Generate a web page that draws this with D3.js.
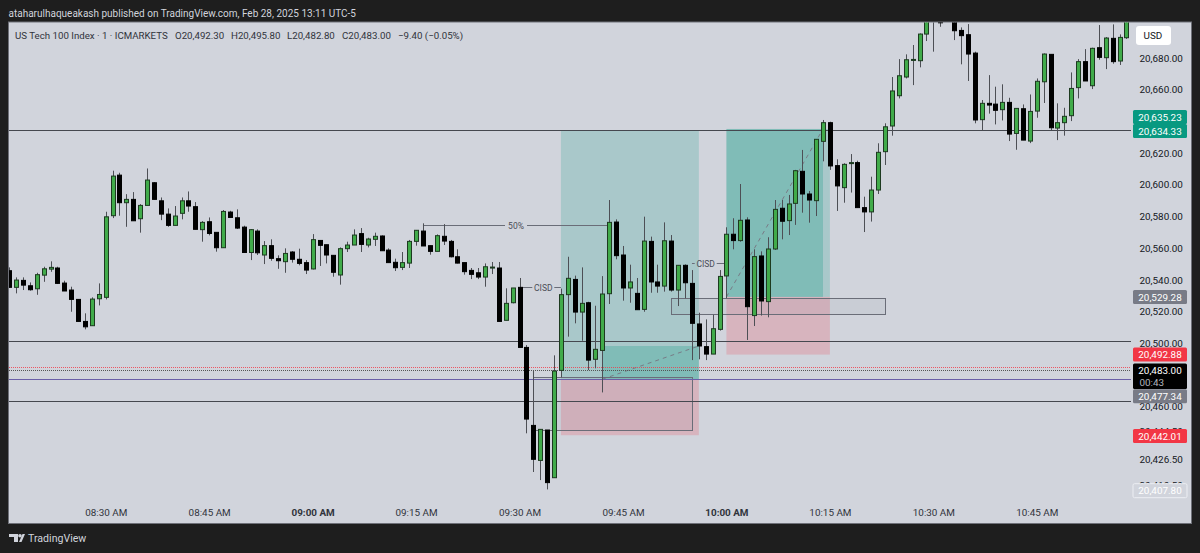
<!DOCTYPE html>
<html>
<head>
<meta charset="utf-8">
<style>
  html, body { margin: 0; padding: 0; background: #1e1e1e; }
  svg { display: block; font-family: Roboto, "Liberation Sans", sans-serif; }
</style>
<script src="https://cdn.jsdelivr.net/npm/d3@7"></script>
</head>
<body>
<div id="mycanvas"></div>
<script>
// one bar per minute, first bar on screen is 08:16
const firstBar = "08:16";

const opens = [
  20545.8,20535.3,20539.7,20536.3,20534.4,20543.0,20546.8,20547.5,20538.0,20533.6,20527.7,20513.8,20511.1,20528.1,
  20529.0,20580.5,20606.1,20588.7,20590.8,20578.6,20587.0,20601.3,20589.9,20581.5,
  20574.4,20582.0,20589.9,20586.2,20571.7,20576.7,20570.0,20560.3,20582.8,20579.2,
  20573.3,20557.3,20570.8,20555.7,20561.6,20553.4,20551.5,20557.6,20553.0,20550.9,
  20546.9,20564.9,20562.2,20555.5,20543.1,20559.7,20562.0,20569.2,20562.0,20565.6,
  20567.7,20558.8,20551.1,20547.9,20550.6,20564.3,20570.8,20561.6,20558.0,20567.5,
  20564.3,20554.6,20550.9,20546.0,20544.5,20541.8,20547.9,20547.5,20514.5,20525.6,
  20535.3,20497.4,20448.2,20426.1,20445.3,20415.2,20482.9,20530.7,20540.3,20519.7,
  20525.6,20489.9,20495.5,20531.3,20576.5,20555.7,20534.9,20531.5,20521.4,20564.3,
  20538.7,20536.1,20564.5,20533.6,20549.2,20537.8,20512.2,20497.9,20493.2,20508.8,
  20542.5,20568.8,20564.8,20577.8,20517.5,20555.1,20526.3,20559.5,20585.2,20577.4,
  20588.3,20608.5,20594.2,20590.0,20627.4,20639.2,20612.1,20598.2,20613.6,20614.0,
  20585.6,20582.9,20596.7,20620.9,20637.1,20656.2,20668.0,20678.7,20678.3,20695.1,
  20712,20706,20712,20708,20697.4,20694.7,20683.1,20641.1,20651.4,20650.9,
  20647.4,20652.0,20632.4,20648.0,20627.6,20646.5,20665.0,20682.3,20635.8,20639.2,
  20643.6,20661.3,20677.7,20662.5,20686.5,20680.2,20692.4,20678.1,20692.8
];
const highs = [
  20547.9,20541.6,20541.6,20538.4,20544.5,20548.3,20551.7,20548.3,20539.5,20535.7,20527.7,20518.9,20529.0,20537.8,
  20583.0,20608.9,20607.6,20594.1,20595.4,20587.8,20610.3,20601.7,20592.0,20585.1,
  20586.6,20592.0,20595.8,20589.1,20577.1,20579.4,20570.0,20584.1,20583.6,20584.5,
  20574.2,20572.1,20571.9,20564.5,20565.6,20555.5,20559.9,20558.2,20559.7,20552.5,
  20568.9,20564.9,20562.2,20555.5,20560.5,20564.1,20571.9,20572.7,20566.6,20569.8,
  20568.1,20559.9,20553.4,20557.6,20565.2,20571.3,20575.7,20561.6,20568.7,20575.2,
  20565.2,20559.3,20550.9,20547.5,20547.5,20550.4,20551.3,20551.3,20534.7,20534.9,
  20541.2,20498.9,20482.5,20445.7,20445.3,20492.4,20534.5,20554.6,20542.7,20547.9,
  20526.2,20523.7,20542.4,20590.4,20578.2,20561.4,20549.6,20541.2,20579.9,20567.3,
  20549.6,20576.3,20568.3,20549.2,20549.8,20546.2,20519.3,20515.1,20518.0,20546.2,
  20573.2,20578.9,20600.5,20579.5,20559.3,20558.0,20566.9,20590.4,20590.4,20593.6,
  20609.4,20622.0,20596.1,20628.7,20640.9,20639.8,20616.1,20613.6,20619.4,20615.2,
  20592.5,20605.1,20626.2,20638.8,20668.0,20679.3,20682.3,20688.2,20695.5,20712,
  20716,20710,20715,20712,20699.3,20701.4,20684.0,20653.5,20669.2,20661.9,
  20663.4,20654.9,20648.2,20650.7,20657.0,20667.1,20682.9,20682.3,20651.4,20648.6,
  20670.9,20679.3,20685.6,20686.5,20700.8,20693.2,20701.2,20694.9,20708
];
const lows = [
  20535.0,20531.5,20533.6,20533.2,20530.6,20538.8,20545.1,20537.4,20533.0,20519.9,20513.8,20508.8,20511.1,20523.9,
  20527.7,20579.0,20580.5,20573.5,20577.3,20569.8,20587.0,20590.8,20577.7,20573.5,
  20574.4,20578.2,20583.0,20571.9,20564.1,20568.1,20557.8,20560.3,20579.4,20572.1,
  20557.3,20552.5,20555.7,20550.0,20552.1,20547.0,20544.5,20550.9,20549.2,20543.7,
  20546.6,20548.8,20550.4,20542.0,20537.0,20557.6,20562.0,20557.6,20560.5,20561.4,
  20558.4,20550.9,20545.6,20546.2,20547.5,20561.6,20561.4,20555.9,20558.0,20562.0,
  20554.2,20550.4,20543.3,20540.5,20540.5,20535.7,20543.7,20513.8,20514.5,20525.2,
  20497.4,20443.2,20418.8,20413.7,20407.8,20415.2,20478.5,20504.2,20512.6,20501.6,
  20483.1,20484.2,20469.0,20524.8,20553.0,20526.9,20525.6,20521.2,20519.9,20531.9,
  20531.9,20532.6,20532.6,20523.5,20528.4,20489.4,20489.9,20489.4,20493.2,20508.0,
  20528.4,20559.3,20564.1,20502.1,20510.9,20517.5,20516.4,20558.9,20565.6,20568.3,
  20574.7,20582.4,20576.1,20580.3,20614.8,20609.4,20583.5,20588.7,20595.1,20585.6,
  20570.2,20576.8,20594.2,20612.5,20631.0,20654.5,20667.1,20662.9,20674.1,20690.7,
  20684.0,20699.7,20704,20691.3,20676.0,20665.5,20638.8,20634.3,20644.9,20638.1,
  20640.6,20627.6,20622.1,20628.2,20626.3,20642.3,20651.6,20634.5,20628.2,20631.0,
  20640.2,20654.5,20665.5,20660.4,20678.9,20673.0,20676.4,20675.6,20692.0
];
const closes = [
  20535.3,20539.9,20536.7,20533.8,20543.3,20547.0,20547.9,20537.8,20533.0,20527.7,20513.8,20510.4,20527.9,20530.8,
  20579.8,20605.5,20588.7,20590.8,20577.3,20587.0,20603.0,20590.8,20581.5,20574.4,
  20580.3,20589.9,20586.6,20571.9,20576.3,20569.3,20560.3,20583.2,20579.4,20572.7,
  20557.3,20571.7,20557.1,20561.6,20553.6,20552.1,20556.7,20553.0,20550.4,20546.2,
  20565.4,20561.8,20555.7,20544.8,20559.7,20562.0,20568.3,20562.4,20565.8,20567.5,
  20558.4,20550.9,20547.7,20550.9,20564.3,20571.3,20561.4,20558.0,20567.9,20564.5,
  20554.6,20550.6,20545.2,20543.5,20541.8,20548.3,20548.1,20513.8,20525.2,20534.9,
  20497.4,20452.2,20426.8,20445.7,20412.1,20482.5,20530.7,20541.0,20519.7,20525.2,
  20489.4,20496.2,20531.1,20576.3,20555.3,20534.9,20538.7,20521.2,20564.5,20538.7,
  20536.1,20564.7,20533.6,20549.2,20538.2,20512.6,20498.3,20493.2,20509.2,20542.2,
  20568.8,20564.8,20577.6,20523.1,20554.7,20526.7,20559.5,20584.5,20577.0,20587.9,
  20608.9,20594.2,20590.4,20628.7,20639.2,20611.9,20599.3,20612.9,20614.0,20585.6,
  20582.9,20596.7,20620.5,20636.6,20659.2,20668.8,20678.9,20679.1,20695.1,20708,
  20704,20702.2,20708,20697.2,20694.1,20682.5,20640.9,20651.4,20650.3,20647.0,
  20652.0,20632.0,20648.2,20628.2,20646.3,20665.3,20682.5,20636.0,20639.2,20643.2,
  20660.8,20677.7,20665.5,20686.1,20680.4,20692.6,20677.7,20693.0,20706
];

const priceTicks = [20680, 20660, 20620, 20600, 20580, 20560, 20540, 20520, 20500, 20460, 20444.5, 20426.5, 20410.5];
const timeTicks = ["08:30", "08:45", "09:00", "09:15", "09:30", "09:45", "10:00", "10:15", "10:30", "10:45"];
const boldTimes = ["09:00", "10:00"];

const titleText = "ataharulhaqueakash published on TradingView.com, Feb 28, 2025 13:11 UTC-5";
const legendText = "US Tech 100 Index · 1 · ICMARKETS";
const legendOhlc = ["O20,492.30", "H20,495.80", "L20,482.80", "C20,483.00", "−9.40 (−0.05%)"];

// horizontal levels
const darkLevels = [20634.33, 20501.3, 20463.6];
const pinkLevel = 20485.3;
const closeLevel = 20483.0;
const entryLevel = 20477.34;

// long positions: start, fill start, fill end, end, target, entry, stop
const positionStart = ["09:36", "10:00"];
const positionFillStart = ["09:42", "10:00"];
const positionFillEnd = ["09:56", "10:14"];
const positionEnd = ["09:56", "10:15"];
const positionTarget = [20634.33, 20635.23];
const positionEntry = [20477.34, 20529.28];
const positionStop = [20442.01, 20492.88];
const positionFillTop = [20498.3, 20635.23];

const width = 1200;
const height = 553;
const plotLeft = 9;
const plotTop = 22.5;
const plotRight = 1131;
const plotBottom = 523.5;
const axisRight = 1191.5;
const fontSize = 9.9;

const parseTime = d3.timeParse("%H:%M");
const addMinutes = (t, n) => new Date(t.getTime() + n * 60000);

const x = d3
  .scaleTime()
  .domain([parseTime("08:30"), parseTime("10:45")])
  .range([105.7, 1036.8]);

const y = d3.scaleLinear().domain([20680, 20500]).range([58, 343.3]);

const bars = opens.map((o, i) => ({
  t: addMinutes(parseTime(firstBar), i),
  o: o,
  h: highs[i],
  l: lows[i],
  c: closes[i],
}));

const svg = d3
  .select("#mycanvas")
  .append("svg")
  .attr("width", width)
  .attr("height", height);

svg.append("rect").attr("width", width).attr("height", height).attr("fill", "#1e1e1e");

svg
  .append("rect")
  .attr("x", plotLeft - 0.5)
  .attr("y", plotTop - 0.5)
  .attr("width", axisRight - plotLeft + 0.5)
  .attr("height", plotBottom - plotTop + 0.5)
  .attr("fill", "#d1d4dc")
  .attr("stroke", "#6e7078");

svg
  .append("clipPath")
  .attr("id", "plotclip")
  .append("rect")
  .attr("x", plotLeft)
  .attr("y", plotTop)
  .attr("width", plotRight - plotLeft)
  .attr("height", plotBottom - plotTop);

const plot = svg.append("g").attr("clip-path", "url(#plotclip)");
const px = (t) => x(parseTime(t));

// long position tools
positionStart.forEach((start, i) => {
  const g = plot.append("g");
  const x0 = px(start);
  const x1 = px(positionEnd[i]);
  g.append("rect")
    .attr("x", x0)
    .attr("y", y(positionTarget[i]))
    .attr("width", x1 - x0)
    .attr("height", y(positionEntry[i]) - y(positionTarget[i]))
    .attr("fill", "#089981")
    .attr("fill-opacity", 0.2);
  g.append("rect")
    .attr("x", x0)
    .attr("y", y(positionEntry[i]))
    .attr("width", x1 - x0)
    .attr("height", y(positionStop[i]) - y(positionEntry[i]))
    .attr("fill", "#f23645")
    .attr("fill-opacity", 0.2);
  g.append("rect")
    .attr("x", px(positionFillStart[i]))
    .attr("y", y(positionFillTop[i]))
    .attr("width", px(positionFillEnd[i]) - px(positionFillStart[i]))
    .attr("height", y(positionEntry[i]) - y(positionFillTop[i]))
    .attr("fill", "#089981")
    .attr("fill-opacity", 0.25);
  g.append("line")
    .attr("x1", px(positionFillStart[i]))
    .attr("y1", y(positionEntry[i]))
    .attr("x2", px(positionFillEnd[i]))
    .attr("y2", y(positionFillTop[i]))
    .attr("stroke", "#787b86")
    .attr("stroke-width", 1)
    .attr("stroke-dasharray", "4 4");
});

// rectangles drawn by hand on the chart
const boxes = [
  { from: "09:32", to: "09:55", top: 20478.5, bottom: 20445.1 },
  { from: "09:52", to: "10:23", top: 20528.4, bottom: 20518.3 },
];
plot
  .selectAll("rect.box")
  .data(boxes)
  .join("rect")
  .attr("class", "box")
  .attr("x", (d) => Math.round(px(d.from)) + 0.5)
  .attr("y", (d) => Math.round(y(d.top)) + 0.5)
  .attr("width", (d) => Math.round(px(d.to) - px(d.from)))
  .attr("height", (d) => Math.round(y(d.bottom) - y(d.top)))
  .attr("fill", "#787b86")
  .attr("fill-opacity", 0.08)
  .attr("stroke", "#6a6d78");

// levels
plot
  .selectAll("line.level")
  .data(darkLevels)
  .join("line")
  .attr("class", "level")
  .attr("x1", plotLeft)
  .attr("x2", plotRight)
  .attr("y1", (d) => Math.round(y(d)) + 0.5)
  .attr("y2", (d) => Math.round(y(d)) + 0.5)
  .attr("stroke", "#45484f");

plot
  .append("line")
  .attr("x1", plotLeft)
  .attr("x2", plotRight)
  .attr("y1", Math.round(y(pinkLevel)) + 0.5)
  .attr("y2", Math.round(y(pinkLevel)) + 0.5)
  .attr("stroke", "#f23645")
  .attr("stroke-opacity", 0.8)
  .attr("stroke-dasharray", "1 1");

plot
  .append("line")
  .attr("x1", plotLeft)
  .attr("x2", plotRight)
  .attr("y1", Math.round(y(closeLevel)) + 0.5)
  .attr("y2", Math.round(y(closeLevel)) + 0.5)
  .attr("stroke", "#555")
  .attr("stroke-dasharray", "1 1");

plot
  .append("line")
  .attr("x1", plotLeft)
  .attr("x2", plotRight)
  .attr("y1", Math.round(y(entryLevel)) + 0.5)
  .attr("y2", Math.round(y(entryLevel)) + 0.5)
  .attr("stroke", "#6a5fa8");

// notes with a label sitting in a gap of the line
const notes = [
  { text: "50%", from: "09:16", to: "09:43", price: 20574.9, gap: 11, at: 516, tick: 20572.5 },
  { text: "CISD", from: "09:30", to: "09:36", price: 20535.3, gap: 11, at: 543.3 },
  { text: "CISD", from: "09:55", to: "10:00", price: 20550.6, gap: 11, at: 705.7 },
];
notes.forEach((n) => {
  const yy = Math.round(y(n.price)) + 0.5;
  const g = plot.append("g");
  g.append("line")
    .attr("x1", px(n.from))
    .attr("x2", n.at - n.gap)
    .attr("y1", yy)
    .attr("y2", yy)
    .attr("stroke", "#6a6d78");
  g.append("line")
    .attr("x1", n.at + n.gap)
    .attr("x2", px(n.to))
    .attr("y1", yy)
    .attr("y2", yy)
    .attr("stroke", "#6a6d78");
  if (n.tick) {
    g.append("line")
      .attr("x1", Math.round(px(n.from)) + 0.5)
      .attr("x2", Math.round(px(n.from)) + 0.5)
      .attr("y1", yy)
      .attr("y2", y(n.tick))
      .attr("stroke", "#6a6d78");
  }
  g.append("text")
    .attr("x", n.at)
    .attr("y", yy + 3)
    .attr("text-anchor", "middle")
    .attr("font-size", 8.5)
    .attr("fill", "#4a4d57")
    .text(n.text);
});

// candles
const cx = (d) => Math.round(x(d.t)) + 0.5;
const candle = plot.append("g").selectAll("g").data(bars).join("g");

candle
  .append("line")
  .attr("x1", cx)
  .attr("x2", cx)
  .attr("y1", (d) => y(d.h))
  .attr("y2", (d) => y(d.l))
  .attr("stroke", "#4d4f55");

candle
  .append("rect")
  .attr("x", (d) => cx(d) - 2)
  .attr("width", 4)
  .attr("y", (d) => y(Math.max(d.o, d.c)))
  .attr("height", (d) => Math.max(1, Math.abs(y(d.o) - y(d.c))))
  .attr("fill", (d) => (d.c >= d.o ? "#41ab4a" : "#000"))
  .attr("stroke", (d) => (d.c >= d.o ? "#1d3a20" : "#000"));

// axes
const yAxis = svg
  .append("g")
  .attr("transform", `translate(1135 0)`)
  .call(d3.axisRight(y).tickValues(priceTicks).tickSize(0).tickFormat(d3.format(",.2f")));
yAxis.select(".domain").remove();
yAxis
  .selectAll("text")
  .attr("x", 4.5)
  .attr("font-family", "Roboto, sans-serif")
  .attr("font-size", fontSize)
  .attr("fill", "#131722");

const xAxis = svg
  .append("g")
  .attr("transform", `translate(0 ${plotBottom - 18})`)
  .call(
    d3
      .axisBottom(x)
      .tickValues(timeTicks.map(parseTime))
      .tickSize(0)
      .tickFormat(d3.timeFormat("%I:%M %p"))
  );
xAxis.select(".domain").remove();
xAxis
  .selectAll("text")
  .attr("font-family", "Roboto, sans-serif")
  .attr("font-size", fontSize)
  .attr("fill", "#30333b")
  .attr("font-weight", (d) => (boldTimes.includes(d3.timeFormat("%H:%M")(d)) ? 700 : 400));

// price labels on the axis
const labelPrices = [20635.23, 20634.33, 20529.28, 20492.88, 20477.34, 20442.01, 20407.8];
const labelFills = ["#089981", "#089981", "#787b86", "#f23645", "#787b86", "#f23645", "#d1d4dc"];
const labelCentres = [117, 131, 297, 354.6, 396.2, 436, 490.7];

const labels = svg
  .append("g")
  .selectAll("g")
  .data(labelPrices)
  .join("g")
  .attr("transform", (d, i) => `translate(1133 ${labelCentres[i]})`);
labels
  .append("rect")
  .attr("x", 0)
  .attr("y", -7)
  .attr("width", 54)
  .attr("height", 14)
  .attr("rx", 1.5)
  .attr("fill", (d, i) => labelFills[i])
  .attr("stroke", (d, i) => (labelFills[i] === "#d1d4dc" ? "#eceef3" : "none"));
labels
  .append("text")
  .attr("x", 27)
  .attr("y", 3.6)
  .attr("text-anchor", "middle")
  .attr("font-size", fontSize)
  .attr("fill", "#fff")
  .text((d) => d3.format(",.2f")(d));

// last price with countdown
const lastLabel = svg.append("g").attr("transform", "translate(1133 363.5)");
lastLabel
  .append("rect")
  .attr("width", 54)
  .attr("height", 25.5)
  .attr("rx", 1.5)
  .attr("fill", "#000");
lastLabel
  .append("text")
  .attr("x", 27)
  .attr("y", 10.2)
  .attr("text-anchor", "middle")
  .attr("font-size", fontSize)
  .attr("fill", "#fff")
  .text(d3.format(",.2f")(closeLevel));
lastLabel
  .append("text")
  .attr("x", 6.5)
  .attr("y", 22)
  .attr("font-size", fontSize)
  .attr("fill", "#b2b5be")
  .text("00:43");

// currency button
svg
  .append("rect")
  .attr("x", 1136)
  .attr("y", 26)
  .attr("width", 35)
  .attr("height", 19)
  .attr("rx", 3)
  .attr("fill", "#fff");
svg
  .append("text")
  .attr("x", 1143.5)
  .attr("y", 39.3)
  .attr("font-size", fontSize)
  .attr("fill", "#131722")
  .text("USD");

// header, legend, footer
svg
  .append("text")
  .attr("x", 8.5)
  .attr("y", 17)
  .attr("font-size", 10)
  .attr("fill", "#d1d4dc")
  .text(titleText);

svg
  .append("text")
  .attr("x", 15)
  .attr("y", 39)
  .attr("font-size", 9.7)
  .attr("fill", "#30333b")
  .text(legendText);

const legendX = [175, 231, 287, 342, 398];
svg
  .selectAll("text.ohlc")
  .data(legendOhlc)
  .join("text")
  .attr("class", "ohlc")
  .attr("x", (d, i) => legendX[i])
  .attr("y", 39)
  .attr("font-size", 9.7)
  .attr("fill", "#30333b")
  .text((d) => d);

const logo = svg.append("g").attr("fill", "#d1d4dc");
logo.append("path").attr("d", "M9 534h9v8h-4v-5h-5z");
logo.append("circle").attr("cx", 20).attr("cy", 535.8).attr("r", 1.8);
logo.append("path").attr("d", "M19 542l3.5-8h2.5l-3.5 8z");
svg
  .append("text")
  .attr("x", 28)
  .attr("y", 542.3)
  .attr("font-size", 10.6)
  .attr("fill", "#d1d4dc")
  .text("TradingView");
</script>
</body>
</html>
